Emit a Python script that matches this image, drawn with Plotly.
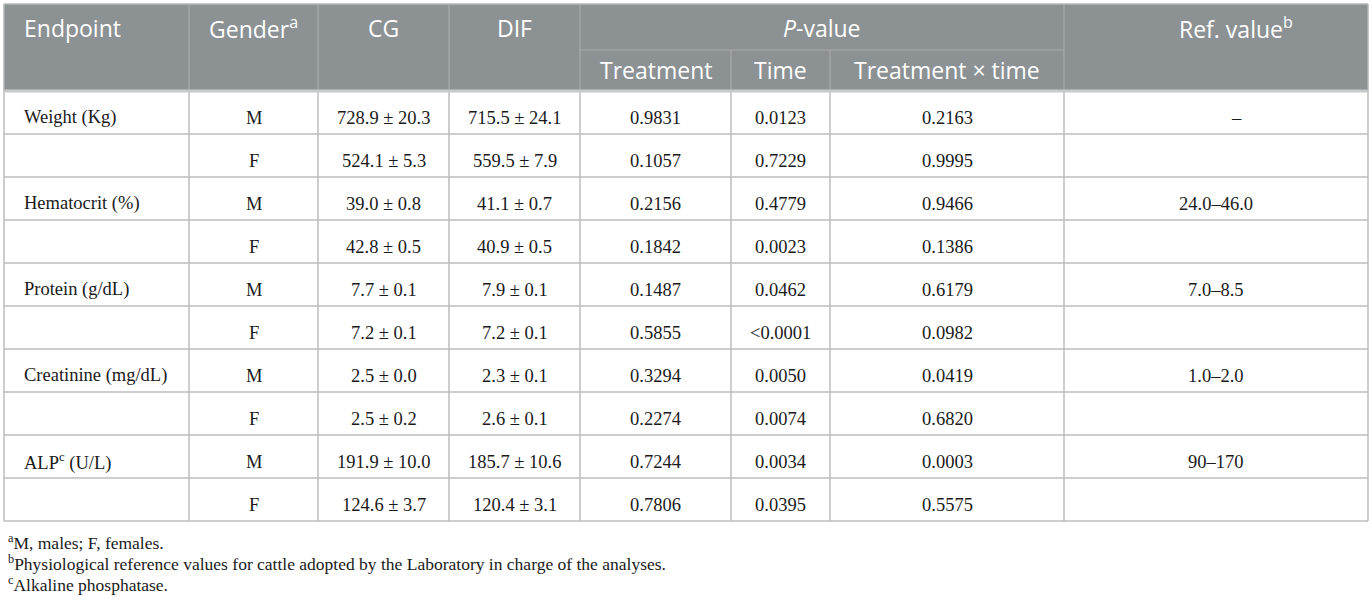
import plotly.graph_objects as go

# table content
endpoints = ["Weight (Kg)", "Hematocrit (%)", "Protein (g/dL)",
             "Creatinine (mg/dL)", "ALP<sup>c</sup> (U/L)"]
genders = ["M", "F"]
cg_values = ["728.9 ± 20.3", "524.1 ± 5.3", "39.0 ± 0.8", "42.8 ± 0.5",
             "7.7 ± 0.1", "7.2 ± 0.1", "2.5 ± 0.0", "2.5 ± 0.2",
             "191.9 ± 10.0", "124.6 ± 3.7"]
dif_values = ["715.5 ± 24.1", "559.5 ± 7.9", "41.1 ± 0.7", "40.9 ± 0.5",
              "7.9 ± 0.1", "7.2 ± 0.1", "2.3 ± 0.1", "2.6 ± 0.1",
              "185.7 ± 10.6", "120.4 ± 3.1"]
p_treatment = ["0.9831", "0.1057", "0.2156", "0.1842", "0.1487",
               "0.5855", "0.3294", "0.2274", "0.7244", "0.7806"]
p_time = ["0.0123", "0.7229", "0.4779", "0.0023", "0.0462",
          "&lt;0.0001", "0.0050", "0.0074", "0.0034", "0.0395"]
p_interaction = ["0.2163", "0.9995", "0.9466", "0.1386", "0.6179",
                 "0.0982", "0.0419", "0.6820", "0.0003", "0.5575"]
ref_values = ["–", "24.0–46.0", "7.0–8.5", "1.0–2.0", "90–170"]

header_top = ["Endpoint", "Gender<sup>a</sup>", "CG", "DIF", "<i>P</i>-value", "Ref. value<sup>b</sup>"]
header_sub = ["Treatment", "Time", "Treatment × time"]
footnotes = ["<sup>a</sup>M, males; F, females.",
             "<sup>b</sup>Physiological reference values for cattle adopted by the Laboratory in charge of the analyses.",
             "<sup>c</sup>Alkaline phosphatase."]

# layout geometry (pixels)
W, H = 1372, 601
cols = [4, 189, 318, 449, 580, 731, 830, 1064, 1368]
top, mid, head_bot = 4, 50, 91
row_h = 43
n_rows = len(cg_values)
bottom = head_bot + row_h * n_rows

HEAD_BG = "#8c9194"
GRID = "#bcbcbc"
HEAD_LINE = "#a8acaf"
SANS = "Open Sans, Noto Sans, sans-serif"
SERIF = "Liberation Serif, DejaVu Serif, serif"
HEAD_SIZE = 23
BODY_SIZE = 18.5
NOTE_SIZE = 17.5

fig = go.Figure()
shapes = []
annotations = []


def line(x0, y0, x1, y1, color=GRID, width=1.5):
    shapes.append(dict(type="line", xref="x", yref="y", x0=x0, y0=y0, x1=x1, y1=y1,
                       line=dict(color=color, width=width)))


def text(x, y, s, size, color, family, anchor="center"):
    annotations.append(dict(x=x, y=y, xref="x", yref="y", text=s, showarrow=False,
                            xanchor=anchor, yanchor="middle",
                            font=dict(size=size, color=color, family=family)))


# header background
shapes.append(dict(type="rect", xref="x", yref="y", x0=cols[0], y0=top, x1=cols[-1], y1=head_bot,
                   fillcolor=HEAD_BG, line=dict(width=0), layer="below"))

# header separators
for c in [cols[1], cols[2], cols[3], cols[4], cols[7]]:
    line(c, top, c, head_bot, HEAD_LINE, 1.2)
for c in [cols[5], cols[6]]:
    line(c, mid, c, head_bot, HEAD_LINE, 1.2)
line(cols[4], mid, cols[7], mid, HEAD_LINE, 1.2)

# body grid
for i in range(1, n_rows):
    y = head_bot + row_h * i
    line(cols[0], y, cols[-1], y)
for c in cols:
    line(c, head_bot, c, bottom)
line(cols[0], bottom, cols[-1], bottom)
line(cols[0], head_bot, cols[-1], head_bot, "#c9c9c9", 3)
line(cols[0], top, cols[-1], top, "#b5b5b5", 1.5)
line(cols[0], top, cols[0], head_bot, "#b5b5b5", 1.5)
line(cols[-1], top, cols[-1], head_bot, "#b5b5b5", 1.5)

# header text
centers = [(cols[k] + cols[k + 1]) / 2 for k in range(len(cols) - 1)]
hy1, hy2 = 28, 70
text(22, hy1, header_top[0], HEAD_SIZE, "white", SANS, "left")
text(centers[1], hy1, header_top[1], HEAD_SIZE, "white", SANS)
text(centers[2], hy1, header_top[2], HEAD_SIZE, "white", SANS)
text(centers[3], hy1, header_top[3], HEAD_SIZE, "white", SANS)
text((cols[4] + cols[7]) / 2, hy1, header_top[4], HEAD_SIZE, "white", SANS)
text(centers[7] + 20, hy1, header_top[5], HEAD_SIZE, "white", SANS)
for k, s in enumerate(header_sub):
    text(centers[4 + k], hy2, s, HEAD_SIZE, "white", SANS)

# body text
BODY = "#1a1a1a"
for i in range(n_rows):
    y = head_bot + row_h * (i + 0.5) + 5
    if i % 2 == 0:
        text(22, y, endpoints[i // 2], BODY_SIZE, BODY, SERIF, "left")
        ref = ref_values[i // 2]
        text(centers[7] + (20 if ref == "–" else 0), y, ref, BODY_SIZE, BODY, SERIF)
    text(centers[1], y, genders[i % 2], BODY_SIZE, BODY, SERIF)
    text(centers[2], y, cg_values[i], BODY_SIZE, BODY, SERIF)
    text(centers[3], y, dif_values[i], BODY_SIZE, BODY, SERIF)
    text(centers[4], y, p_treatment[i], BODY_SIZE, BODY, SERIF)
    text(centers[5], y, p_time[i], BODY_SIZE, BODY, SERIF)
    text(centers[6], y, p_interaction[i], BODY_SIZE, BODY, SERIF)

# footnotes
for k, s in enumerate(footnotes):
    text(6, 542 + 21 * k, s, NOTE_SIZE, BODY, SERIF, "left")

fig.update_layout(
    width=W, height=H,
    margin=dict(l=0, r=0, t=0, b=0),
    paper_bgcolor="white", plot_bgcolor="white",
    xaxis=dict(range=[0, W], visible=False, fixedrange=True),
    yaxis=dict(range=[H, 0], visible=False, fixedrange=True),
    shapes=shapes, annotations=annotations,
    showlegend=False,
)

# drop the page's default body margin so the figure sits at the top-left corner
fig.write_html("out.html", config={"displayModeBar": False},
               post_script="document.body.style.margin='0';document.body.style.overflow='hidden';")
